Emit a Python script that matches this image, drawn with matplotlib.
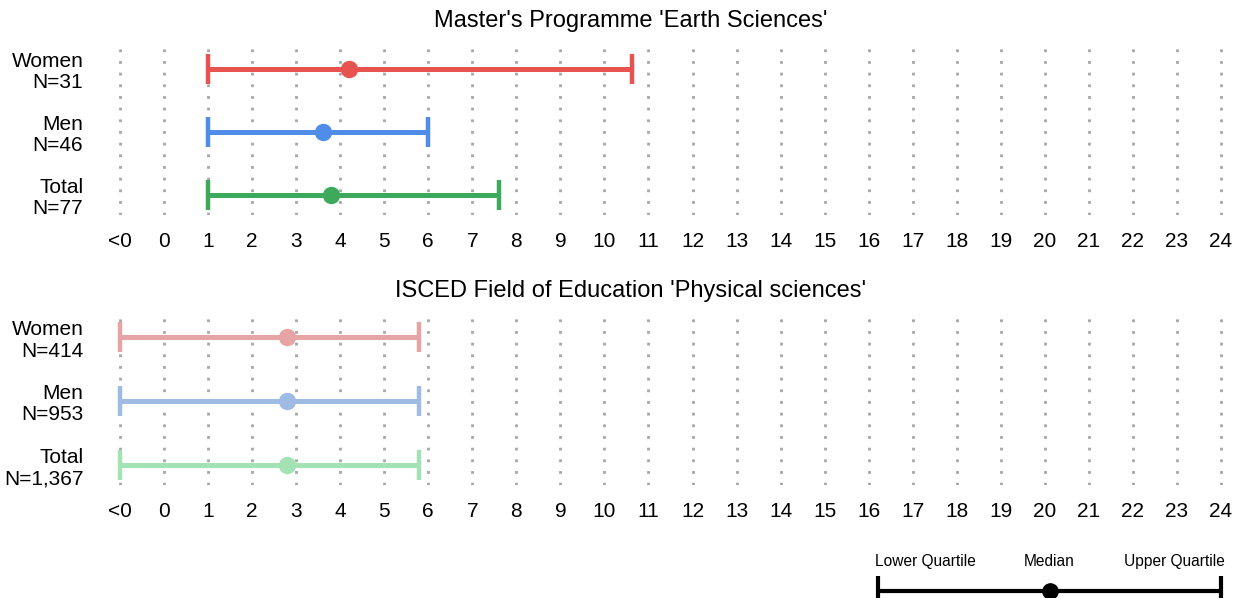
import numpy as np
import matplotlib.pyplot as plt

plt.rcParams['font.family'] = ['Liberation Sans', 'DejaVu Sans']

# x categories: "<0" is placed at position -1, then 0..24
X_LABELS = ['<0'] + [str(i) for i in range(25)]
X_POS = list(range(-1, 25))

GROUPS = ['Women', 'Men', 'Total']

# Panel 1: Master's Programme 'Earth Sciences'
P1_TITLE = "Master's Programme 'Earth Sciences'"
P1_N = ['31', '46', '77']
P1_LOW = [1.0, 1.0, 1.0]
P1_MED = [4.2, 3.6, 3.8]
P1_HIGH = [10.63, 6.0, 7.6]
P1_COLORS = ['#E8524F', '#4F8DE8', '#3DAA5B']

# Panel 2: ISCED Field of Education 'Physical sciences' (-1 means "<0")
P2_TITLE = "ISCED Field of Education 'Physical sciences'"
P2_N = ['414', '953', '1,367']
P2_LOW = [-1.0, -1.0, -1.0]
P2_MED = [2.8, 2.8, 2.8]
P2_HIGH = [5.8, 5.8, 5.8]
P2_COLORS = ['#E6A4A4', '#9DBBE3', '#A3E3B3']

W, H = 1241, 598


def px_axes(fig, x0, y0, x1, y1):
    """Add axes given pixel box (top-left origin)."""
    return fig.add_axes([x0 / W, (H - y1) / H, (x1 - x0) / W, (y1 - y0) / H])


def draw_panel(ax, n, low, med, high, colors):
    for xp in X_POS:
        ax.axvline(xp, color='#A6A6A6', linewidth=2.0, linestyle=(0, (1, 3.2)), zorder=0)
    for i in range(len(GROUPS)):
        ax.errorbar(med[i], i, xerr=[[med[i] - low[i]], [high[i] - med[i]]],
                    fmt='o', color=colors[i], markersize=11.5, elinewidth=3.6,
                    capsize=11, capthick=3.2, clip_on=False, zorder=3)
    ax.set_xlim(-1 - 20 / 44.04, 24 + 14 / 44.04)
    ax.set_ylim(2 + 20 / 63, -24 / 63)
    ax.set_xticks(X_POS)
    ax.set_xticklabels(X_LABELS, fontsize=15)
    ax.set_yticks(range(len(GROUPS)))
    ax.set_yticklabels([f'{g}\nN={k}' for g, k in zip(GROUPS, n)], fontsize=15,
                       linespacing=1.15)
    ax.tick_params(axis='x', length=0, pad=12)
    ax.tick_params(axis='y', length=0, pad=12)
    for s in ax.spines.values():
        s.set_visible(False)
    ax.set_facecolor('none')


fig = plt.figure(figsize=(W / 100, H / 100), dpi=100)

ax1 = px_axes(fig, 100, 45, 1235, 215)
draw_panel(ax1, P1_N, P1_LOW, P1_MED, P1_HIGH, P1_COLORS)
fig.text(631 / W, 1 - 21 / H, P1_TITLE, ha='center', va='center', fontsize=17)

ax2 = px_axes(fig, 100, 313, 1235, 485)
draw_panel(ax2, P2_N, P2_LOW, P2_MED, P2_HIGH, P2_COLORS)
fig.text(631 / W, 1 - 291 / H, P2_TITLE, ha='center', va='center', fontsize=17)

# legend key
axl = px_axes(fig, 878, 545, 1221, 598)
axl.set_xlim(0, 1)
axl.set_ylim(0, 1)
axl.axis('off')
yl = (598 - 591) / 53
ytxt = (598 - 566) / 53
axl.errorbar(0.5, yl, xerr=0.5, fmt='o', color='black', markersize=11,
             elinewidth=3, capsize=11, capthick=3, clip_on=False)
axl.text(-0.01, ytxt, 'Lower Quartile', ha='left', va='baseline', fontsize=11.2)
axl.text(0.5, ytxt, 'Median', ha='center', va='baseline', fontsize=11.2)
axl.text(1.01, ytxt, 'Upper Quartile', ha='right', va='baseline', fontsize=11.2)

fig.savefig('out.png', dpi=100)
